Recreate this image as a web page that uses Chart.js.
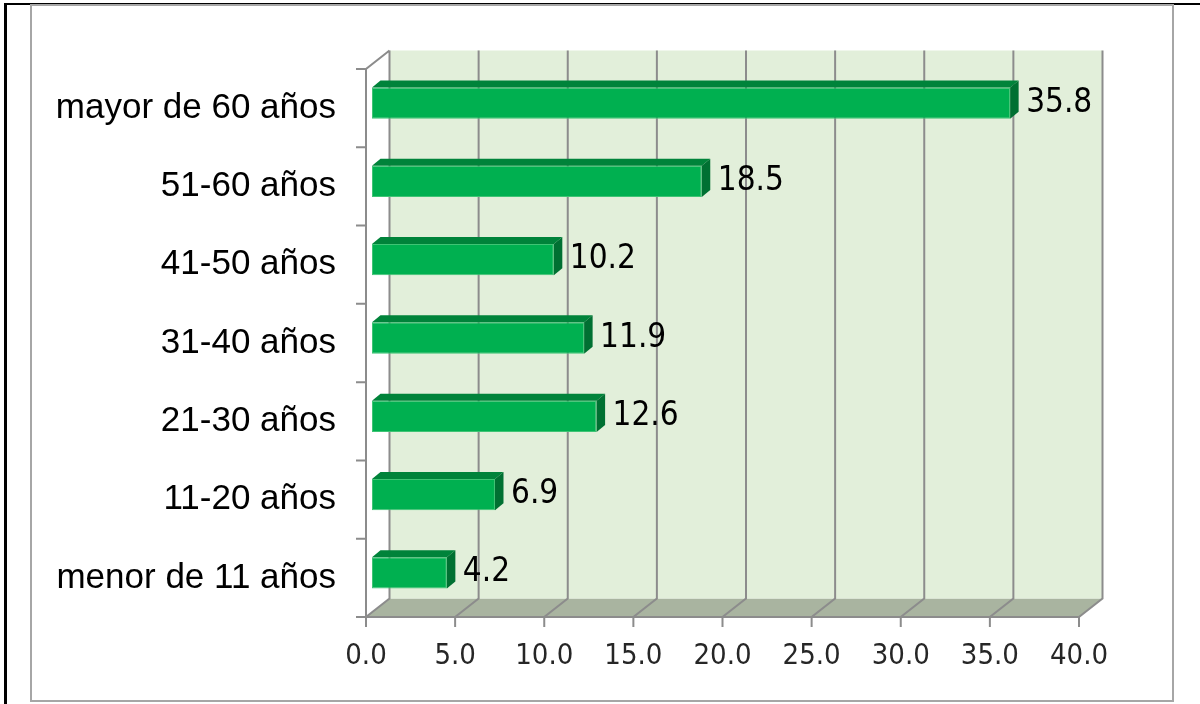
<!DOCTYPE html>
<html>
<head>
<meta charset="utf-8">
<title>Distribución por edad</title>
<script src="https://cdn.jsdelivr.net/npm/chart.js@4/dist/chart.umd.min.js"></script>
<style>
  body { margin: 0; background: #fff; }
  #marcoArriba { position: absolute; left: 4px; top: 3px; width: 1196px; height: 2px; background: #000; }
  #marcoIzq { position: absolute; left: 4px; top: 3px; width: 3px; height: 701px; background: #000; }
  #caja { position: absolute; left: 30px; top: 4px; width: 1144px; height: 698px; box-sizing: border-box; border: 2px solid #a6a6a6; }
  #grafico { position: absolute; left: 0; top: 0; }
</style>
</head>
<body>
<div id="marcoArriba"></div>
<div id="marcoIzq"></div>
<div id="caja"></div>
<canvas id="grafico" width="1200" height="704"></canvas>
<script>
// datos por grupo de edad (%)
var categorias = ['menor de 11 años', '11-20 años', '21-30 años', '31-40 años', '41-50 años', '51-60 años', 'mayor de 60 años'];
var porcentajes = [4.2, 6.9, 12.6, 11.9, 10.2, 18.5, 35.8];
var ejeMin = 0;
var ejeMax = 40;
var ejePaso = 5;

// profundidad de la caja 3D y de las barras
var fondoX = 23.5, fondoY = -18.5;
var barraDX = 6, barraDY = -5;
var grosorX = 8.5, grosorY = -7;

var fuenteNum = "'Liberation Sans Narrow', 'DejaVu Sans Condensed', Lato, sans-serif";

var caja3d = {
    id: 'caja3d',
    beforeDatasetsDraw: function(chart) {
        var ctx = chart.ctx;
        var a = chart.chartArea;
        var x = chart.scales.x;
        ctx.save();

        // piso
        ctx.fillStyle = '#A9B4A0';
        ctx.beginPath();
        ctx.moveTo(a.left, a.bottom);
        ctx.lineTo(a.right, a.bottom);
        ctx.lineTo(a.right + fondoX, a.bottom + fondoY);
        ctx.lineTo(a.left + fondoX, a.bottom + fondoY);
        ctx.closePath();
        ctx.fill();

        // pared del fondo
        ctx.fillStyle = '#E2EFDA';
        ctx.fillRect(a.left + fondoX, a.top + fondoY, a.right - a.left, a.bottom - a.top);

        ctx.strokeStyle = '#8C8C8C';
        ctx.lineWidth = 2;
        ctx.beginPath();
        x.ticks.forEach(function(t) {
            var px = x.getPixelForValue(t.value);
            ctx.moveTo(px + fondoX, a.top + fondoY);
            ctx.lineTo(px + fondoX, a.bottom + fondoY);
            ctx.lineTo(px, a.bottom);
            ctx.lineTo(px, a.bottom + 10);
        });
        // borde del piso y pared izquierda
        ctx.moveTo(a.left, a.bottom);
        ctx.lineTo(a.right, a.bottom);
        ctx.moveTo(a.left, a.bottom);
        ctx.lineTo(a.left, a.top);
        ctx.lineTo(a.left + fondoX, a.top + fondoY);
        // marcas de categoria
        var n = categorias.length;
        var banda = (a.bottom - a.top) / n;
        for (var k = 0; k <= n; k++) {
            var yy = a.top + k * banda;
            ctx.moveTo(a.left - 10, yy);
            ctx.lineTo(a.left, yy);
        }
        ctx.stroke();
        ctx.restore();

        // las barras van un poco hacia adentro
        ctx.save();
        ctx.translate(barraDX, barraDY);
    },
    afterDatasetsDraw: function(chart) {
        var ctx = chart.ctx;
        var meta = chart.getDatasetMeta(0);
        meta.data.forEach(function(bar) {
            var p = bar.getProps(['x', 'y', 'base', 'height'], true);
            var arriba = p.y - p.height / 2;
            var abajo = p.y + p.height / 2;
            // cara superior
            ctx.fillStyle = '#00833A';
            ctx.beginPath();
            ctx.moveTo(p.base, arriba);
            ctx.lineTo(p.x, arriba);
            ctx.lineTo(p.x + grosorX, arriba + grosorY);
            ctx.lineTo(p.base + grosorX, arriba + grosorY);
            ctx.closePath();
            ctx.fill();
            // cara lateral
            ctx.fillStyle = '#007032';
            ctx.beginPath();
            ctx.moveTo(p.x, arriba);
            ctx.lineTo(p.x + grosorX, arriba + grosorY);
            ctx.lineTo(p.x + grosorX, abajo + grosorY);
            ctx.lineTo(p.x, abajo);
            ctx.closePath();
            ctx.fill();
        });
        ctx.restore();

        // etiquetas de valor
        ctx.save();
        ctx.fillStyle = '#000';
        ctx.font = '33px ' + fuenteNum;
        ctx.textAlign = 'left';
        ctx.textBaseline = 'middle';
        meta.data.forEach(function(bar, i) {
            ctx.fillText(porcentajes[i].toFixed(1), bar.x + barraDX + 16, bar.y + barraDY);
        });
        ctx.restore();
    }
};

var ctx = document.getElementById('grafico');
var grafico = new Chart(ctx, {
    type: 'bar',
    data: {
        labels: categorias,
        datasets: [{
            data: porcentajes,
            backgroundColor: '#00B050',
            borderColor: '#3FC474',
            borderWidth: 1,
            borderSkipped: false,
            categoryPercentage: 1,
            barPercentage: 0.4,
            clip: false
        }]
    },
    options: {
        indexAxis: 'y',
        responsive: false,
        animation: false,
        layout: { padding: { top: 69, right: 121, bottom: 0, left: 0 } },
        plugins: {
            legend: { display: false },
            tooltip: { enabled: false }
        },
        scales: {
            x: {
                min: ejeMin,
                max: ejeMax,
                grid: { display: false, drawTicks: true, tickLength: 10 },
                border: { display: false },
                ticks: {
                    stepSize: ejePaso,
                    padding: 12,
                    color: '#262626',
                    font: { family: fuenteNum, size: 29 },
                    maxRotation: 0,
                    callback: function(v) { return v.toFixed(1); }
                },
                afterFit: function(scale) { scale.height = 87; }
            },
            y: {
                reverse: true,
                grid: { display: false, drawTicks: true, tickLength: 10 },
                border: { display: false },
                ticks: {
                    padding: 20,
                    color: '#000',
                    font: { family: "'Liberation Sans', Arial, sans-serif", size: 35 }
                },
                afterFit: function(scale) { scale.width = 366; }
            }
        }
    },
    plugins: [caja3d]
});
</script>
</body>
</html>
